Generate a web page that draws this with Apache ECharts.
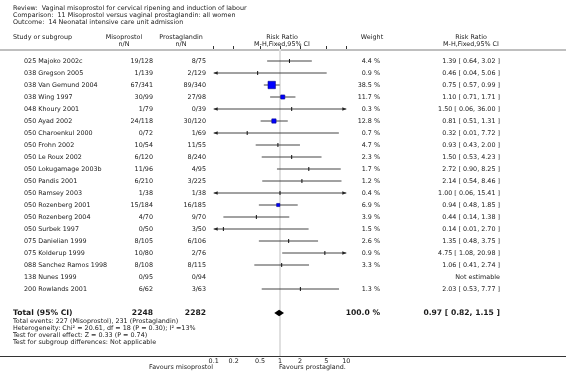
<!DOCTYPE html>
<html>
<head>
<meta charset="utf-8">
<script src="https://cdn.jsdelivr.net/npm/echarts@6/dist/echarts.min.js"></script>
<style>
  html, body { margin: 0; padding: 0; background: #fff; }
  #chart { width: 566px; height: 373px; }
</style>
</head>
<body>
<div id="chart"></div>
<script>
const studies = ['025 Majoko 2002c', '038 Gregson 2005', '038 Van Gemund 2004', '038 Wing 1997', '048 Khoury 2001',
  '050 Ayad 2002', '050 Charoenkul 2000', '050 Frohn 2002', '050 Le Roux 2002', '050 Lokugamage 2003b',
  '050 Pandis 2001', '050 Ramsey 2003', '050 Rozenberg 2001', '050 Rozenberg 2004', '050 Surbek 1997',
  '075 Danielian 1999', '075 Kolderup 1999', '088 Sanchez Ramos 1998', '138 Nunes 1999', '200 Rowlands 2001']
const misoprostol = ['19/128', '1/139', '67/341', '30/99', '1/79', '24/118', '0/72', '10/54', '6/120', '11/96',
  '6/210', '1/38', '15/184', '4/70', '0/50', '8/105', '10/80', '8/108', '0/95', '6/62']
const prostaglandin = ['8/75', '2/129', '89/340', '27/98', '0/39', '30/120', '1/69', '11/55', '8/240', '4/95',
  '3/225', '1/38', '16/185', '9/70', '3/50', '6/106', '2/76', '8/115', '0/94', '3/63']
const weights = [4.4, 0.9, 38.5, 11.7, 0.3, 12.8, 0.7, 4.7, 2.3, 1.7, 1.2, 0.4, 6.9, 3.9, 1.5, 2.6, 0.9, 3.3, null, 1.3]
const riskRatio = [1.39, 0.46, 0.75, 1.10, 1.50, 0.81, 0.32, 0.93, 1.50, 2.72, 2.14, 1.00, 0.94, 0.44, 0.14, 1.35, 4.75, 1.06, null, 2.03]
const ciLow = [0.64, 0.04, 0.57, 0.71, 0.06, 0.51, 0.01, 0.43, 0.53, 0.90, 0.54, 0.06, 0.48, 0.14, 0.01, 0.48, 1.08, 0.41, null, 0.53]
const ciHigh = [3.02, 5.06, 0.99, 1.71, 36.00, 1.31, 7.72, 2.00, 4.23, 8.25, 8.46, 15.41, 1.85, 1.38, 2.70, 3.75, 20.98, 2.74, null, 7.77]
const total = { miso: 2248, prost: 2282, weight: 100.0, rr: 0.97, lo: 0.82, hi: 1.15 }
const tickValues = [0.1, 0.2, 0.5, 1, 2, 5, 10]

const FONT = '6.4px "DejaVu Sans", sans-serif'
const BOLD = 'bold 7.6px "DejaVu Sans", sans-serif'
const INK = '#1a1a1a'
const X_MIN = 0.1, X_MAX = 10
const TOTAL_ROW = studies.length + 2

const fmt = v => v.toFixed(2)
const rrText = i => riskRatio[i] == null ? 'Not estimable'
  : fmt(riskRatio[i]) + ' [ ' + fmt(ciLow[i]) + ', ' + fmt(ciHigh[i]) + ' ]'

const chart = echarts.init(document.getElementById('chart'))

function txt(x, y, text, align, font) {
  return {
    type: 'text', x: x, y: y,
    style: { text: text, fill: INK, font: font || FONT, align: align || 'left', verticalAlign: 'middle' }
  }
}

// forest marks: [rr, lo, hi, row, weight]
const forestData = []
studies.forEach((s, i) => {
  if (riskRatio[i] != null) forestData.push([riskRatio[i], ciLow[i], ciHigh[i], i + 1, weights[i]])
})

function renderForest(params, api) {
  const est = api.value(0), lo = api.value(1), hi = api.value(2), row = api.value(3), w = api.value(4)
  const a = api.coord([Math.max(lo, X_MIN), row])
  const b = api.coord([Math.min(hi, X_MAX), row])
  const c = api.coord([est, row])
  const y = a[1]
  const kids = [{
    type: 'line', shape: { x1: a[0], y1: y, x2: b[0], y2: y },
    style: { stroke: '#444', lineWidth: 1 }
  }]
  if (lo < X_MIN) {
    kids.push({ type: 'polygon', shape: { points: [[a[0], y], [a[0] + 4, y - 1.8], [a[0] + 4, y + 1.8]] }, style: { fill: '#222' } })
  }
  if (hi > X_MAX) {
    kids.push({ type: 'polygon', shape: { points: [[b[0], y], [b[0] - 4, y - 1.8], [b[0] - 4, y + 1.8]] }, style: { fill: '#222' } })
  }
  if (w >= 5) {
    const s = 7.4 * Math.sqrt(w / 38.5)
    kids.push({
      type: 'rect', shape: { x: c[0] - s / 2, y: y - s / 2, width: s, height: s },
      style: { fill: '#0000ff', stroke: '#00008b', lineWidth: 0.6 }
    })
  } else {
    kids.push({
      type: 'line', shape: { x1: c[0], y1: y - 2, x2: c[0], y2: y + 2 },
      style: { stroke: '#111', lineWidth: 1 }
    })
  }
  return { type: 'group', children: kids }
}

function renderDiamond(params, api) {
  const row = api.value(3)
  const l = api.coord([api.value(1), row])
  const r = api.coord([api.value(2), row])
  const c = api.coord([api.value(0), row])
  return {
    type: 'polygon',
    shape: { points: [[l[0], l[1]], [c[0], c[1] - 3.2], [r[0], r[1]], [c[0], c[1] + 3.2]] },
    style: { fill: '#000' }
  }
}

function renderTable(params, api) {
  const i = params.dataIndex
  const y = api.coord([1, api.value(1)])[1]
  const kids = [
    txt(24, y, studies[i]),
    txt(153, y, misoprostol[i], 'right'),
    txt(206, y, prostaglandin[i], 'right'),
    txt(500, y, rrText(i), 'right')
  ]
  if (weights[i] != null) kids.push(txt(380, y, weights[i].toFixed(1) + ' %', 'right'))
  return { type: 'group', children: kids }
}

function renderTotal(params, api) {
  const y = api.coord([1, api.value(1)])[1]
  return {
    type: 'group', children: [
      txt(13, y, 'Total (95% CI)', 'left', BOLD),
      txt(153, y, String(total.miso), 'right', BOLD),
      txt(206, y, String(total.prost), 'right', BOLD),
      txt(380, y, total.weight.toFixed(1) + ' %', 'right', BOLD),
      txt(500, y, fmt(total.rr) + ' [ ' + fmt(total.lo) + ', ' + fmt(total.hi) + ' ]', 'right', BOLD)
    ]
  }
}

const headerText = [
  txt(13, 8, 'Review:  Vaginal misoprostol for cervical ripening and induction of labour'),
  txt(13, 15, 'Comparison:  11 Misoprostol versus vaginal prostaglandin: all women'),
  txt(13, 22, 'Outcome:  14 Neonatal intensive care unit admission'),
  txt(13, 37, 'Study or subgroup'),
  txt(124, 37, 'Misoprostol', 'center'),
  txt(124, 44, 'n/N', 'center'),
  txt(181, 37, 'Prostaglandin', 'center'),
  txt(181, 44, 'n/N', 'center'),
  txt(282, 37, 'Risk Ratio', 'center'),
  txt(282, 44, 'M-H,Fixed,95% CI', 'center'),
  txt(372, 37, 'Weight', 'center'),
  txt(471, 37, 'Risk Ratio', 'center'),
  txt(471, 44, 'M-H,Fixed,95% CI', 'center'),
  txt(13, 321, 'Total events: 227 (Misoprostol), 231 (Prostaglandin)'),
  txt(13, 328, 'Heterogeneity: Chi\u00b2 = 20.61, df = 18 (P = 0.30); I\u00b2 =13%'),
  txt(13, 335, 'Test for overall effect: Z = 0.33 (P = 0.74)'),
  txt(13, 342, 'Test for subgroup differences: Not applicable'),
  txt(213, 367, 'Favours misoprostol', 'right'),
  txt(279, 367, 'Favours prostagland.', 'left')
]

const option = {
  animation: false,
  backgroundColor: '#fff',
  grid: { left: 213.7, right: 219.7, top: 49, bottom: 17 },
  xAxis: {
    type: 'log', logBase: 10, min: X_MIN, max: X_MAX,
    axisLine: { show: false },
    axisTick: { show: true, inside: true, length: 3, customValues: tickValues, lineStyle: { color: '#333' } },
    axisLabel: {
      customValues: tickValues, margin: 2, fontSize: 6.4, color: INK, fontFamily: 'DejaVu Sans',
      formatter: v => String(v)
    },
    splitLine: { show: false },
    minorTick: { show: false }
  },
  yAxis: {
    type: 'value', inverse: true, min: 0, max: 307 / 12,
    show: false
  },
  graphic: [
    { type: 'line', z: -1, shape: { x1: 0, y1: 50, x2: 566, y2: 50 }, style: { stroke: '#aaa', lineWidth: 1.5 } },
    { type: 'line', z: -1, shape: { x1: 0, y1: 356.5, x2: 566, y2: 356.5 }, style: { stroke: '#333', lineWidth: 1 } },
    ...headerText
  ],
  series: [
    {
      type: 'custom', name: 'table', clip: false, silent: true,
      data: studies.map((s, i) => [1, i + 1]),
      renderItem: renderTable,
      markLine: {
        silent: true, symbol: 'none', label: { show: false }, z: 1,
        lineStyle: { color: '#e0e0e0', width: 2, type: 'solid' },
        data: [{ xAxis: 1 }]
      },
      z: 1
    },
    {
      type: 'custom', name: 'forest', clip: false, silent: true,
      data: forestData, renderItem: renderForest, z: 6
    },
    {
      type: 'custom', name: 'total', clip: false, silent: true,
      data: [[total.rr, total.lo, total.hi, TOTAL_ROW]], renderItem: renderDiamond, z: 6
    },
    {
      type: 'custom', name: 'totalText', clip: false, silent: true,
      data: [[1, TOTAL_ROW]], renderItem: renderTotal, z: 6
    }
  ]
}

chart.setOption(option)
</script>
</body>
</html>
